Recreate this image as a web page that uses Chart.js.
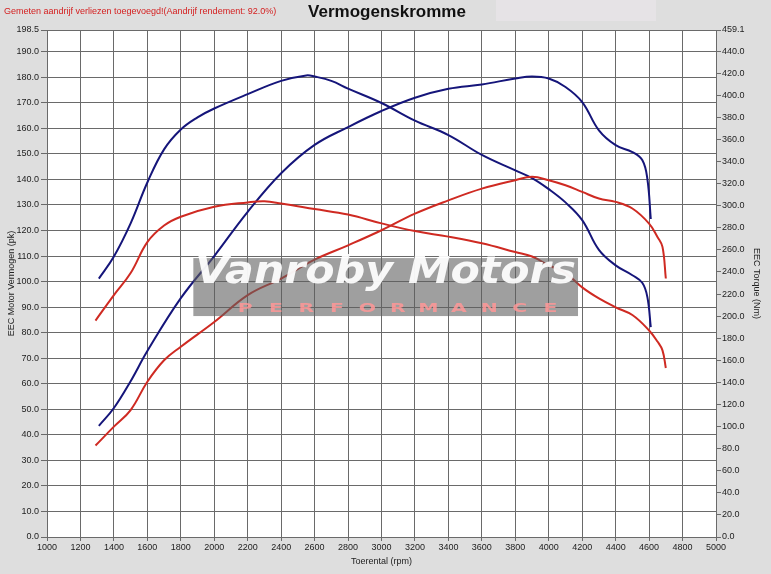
<!DOCTYPE html>
<html>
<head>
<meta charset="utf-8">
<script src="https://cdn.jsdelivr.net/npm/chart.js@4.4.1/dist/chart.umd.min.js"></script>
<style>
html, body { margin: 0; padding: 0; background: #dedede; }
</style>
</head>
<body>
<canvas id="c" width="771" height="574"></canvas>
<script>
// tick labels
const rpmTicks = [1000, 1200, 1400, 1600, 1800, 2000, 2200, 2400, 2600, 2800, 3000, 3200, 3400, 3600, 3800, 4000, 4200, 4400, 4600, 4800, 5000];
const pkTicks = [0, 10, 20, 30, 40, 50, 60, 70, 80, 90, 100, 110, 120, 130, 140, 150, 160, 170, 180, 190, 198.5];
const nmTicks = [0, 20, 40, 60, 80, 100, 120, 140, 160, 180, 200, 220, 240, 260, 280, 300, 320, 340, 360, 380, 400, 420, 440, 459.1];

// blue run (vermogen pk / koppel Nm)
const bluePkRpm = [1310, 1400, 1500, 1600, 1800, 2000, 2200, 2400, 2600, 2800, 3000, 3200, 3400, 3600, 3800, 3900, 4000, 4100, 4200, 4300, 4400, 4500, 4560, 4590, 4610];
const bluePk = [43.5, 50.5, 61, 72.8, 93.5, 110, 127.3, 142.4, 153.5, 160.5, 166.8, 172, 175.5, 177.2, 179.5, 180.3, 179.5, 176.2, 170.3, 159.2, 153.4, 150.7, 147.5, 140, 124.5];
const blueNmRpm = [1310, 1400, 1500, 1600, 1700, 1800, 1900, 2000, 2200, 2400, 2550, 2600, 2700, 2800, 3000, 3200, 3400, 3600, 3800, 3900, 4000, 4100, 4200, 4300, 4400, 4500, 4560, 4590, 4610];
const blueNm = [234, 254, 284, 321, 351, 369, 380, 388, 401, 413, 418, 417, 413, 406, 393, 377, 364, 346, 332, 325, 315, 303, 287, 260, 246, 237, 230, 217, 190];

// red run
const redPkRpm = [1290, 1400, 1500, 1600, 1700, 1800, 2000, 2200, 2400, 2600, 2800, 3000, 3200, 3400, 3600, 3800, 3900, 4000, 4100, 4200, 4300, 4400, 4500, 4600, 4650, 4680, 4700];
const redPk = [35.8, 43.2, 49.7, 60.8, 69.2, 74.5, 84.2, 94.7, 101.2, 108.6, 114.2, 120.1, 126.6, 131.8, 136.4, 139.7, 141, 139.7, 137.7, 135.1, 132.5, 131.2, 128.6, 122.7, 117.5, 113.6, 101.2];
const redNmRpm = [1290, 1400, 1500, 1600, 1700, 1800, 2000, 2200, 2300, 2400, 2600, 2800, 3000, 3200, 3400, 3600, 3800, 3900, 4000, 4100, 4200, 4300, 4400, 4500, 4600, 4650, 4680, 4700];
const redNm = [196, 219, 239, 267, 282, 290, 299, 303, 304, 302, 297, 292, 284, 277, 272, 266, 258, 254, 246, 239, 226, 216, 208, 201, 187, 177, 169, 153];

const BLUE = '#15157a';
const RED = '#cf2a22';
const GRID = '#6a6a6a';

const pts = (xs, ys) => xs.map((x, i) => ({ x: x, y: ys[i] }));

function line(xs, ys, color, axis) {
    return {
        data: pts(xs, ys),
        yAxisID: axis,
        borderColor: color,
        borderWidth: 2,
        pointRadius: 0,
        fill: false,
        tension: 0.4
    };
}

Chart.defaults.font.family = '"Liberation Sans", Arial, sans-serif';
Chart.defaults.font.size = 9;
Chart.defaults.color = '#222';

// grey page, lighter box, white plot area
const background = {
    id: 'background',
    beforeDraw(chart) {
        const { ctx, chartArea: a } = chart;
        ctx.save();
        ctx.fillStyle = '#dedede';
        ctx.fillRect(0, 0, chart.width, chart.height);
        ctx.fillStyle = '#e6e3e6';
        ctx.fillRect(496, 0, 160, 21);
        ctx.fillStyle = '#fff';
        ctx.fillRect(a.left, a.top, a.right - a.left, a.bottom - a.top);
        ctx.restore();
    },
    afterDraw(chart) {
        const ctx = chart.ctx;
        ctx.save();
        ctx.textBaseline = 'middle';
        ctx.fillStyle = '#d42020';
        ctx.font = '9px "Liberation Sans", Arial';
        ctx.fillText('Gemeten aandrijf verliezen toegevoegd!(Aandrijf rendement: 92.0%)', 4, 12);
        ctx.fillStyle = '#111';
        ctx.font = 'bold 17px "Liberation Sans", Arial';
        ctx.textAlign = 'center';
        ctx.fillText('Vermogenskromme', 387, 12);
        ctx.restore();
    }
};

// "Vanroby Motors" logo block over the curves
const watermark = {
    id: 'watermark',
    afterDatasetsDraw(chart) {
        const { ctx, scales } = chart;
        const l = scales.x.getPixelForValue(1875), r = scales.x.getPixelForValue(4175);
        const t = scales.y.getPixelForValue(109.2), b = scales.y.getPixelForValue(86.5);
        ctx.save();
        ctx.fillStyle = 'rgba(95,95,95,0.6)';
        ctx.fillRect(l, t, r - l, b - t);

        ctx.font = 'italic bold 37px "DejaVu Sans"';
        ctx.fillStyle = 'rgba(255,255,255,0.93)';
        const txt = 'Vanroby Motors';
        const w = ctx.measureText(txt).width;
        ctx.save();
        ctx.translate(l + 2, t + 25);
        ctx.scale((r - l - 4) / w, 1);
        ctx.fillText(txt, 0, 0);
        ctx.restore();

        ctx.font = 'bold 12px "DejaVu Sans"';
        ctx.fillStyle = 'rgba(255,150,150,0.85)';
        ctx.textAlign = 'center';
        const letters = 'PERFORMANCE'.split('');
        letters.forEach((ch, i) => {
            ctx.save();
            ctx.translate(l + 52 + i * 30.5, b - 4);
            ctx.scale(1.7, 1);
            ctx.fillText(ch, 0, 0);
            ctx.restore();
        });
        ctx.restore();
    }
};

new Chart(document.getElementById('c'), {
    type: 'line',
    data: {
        datasets: [
            line(redPkRpm, redPk, RED, 'y'),
            line(redNmRpm, redNm, RED, 'y1'),
            line(bluePkRpm, bluePk, BLUE, 'y'),
            line(blueNmRpm, blueNm, BLUE, 'y1')
        ]
    },
    options: {
        responsive: false,
        animation: false,
        devicePixelRatio: 1,
        layout: { padding: { top: 30, left: 0, right: 0, bottom: 0 } },
        plugins: {
            legend: { display: false },
            title: { display: false },
            tooltip: { enabled: false }
        },
        scales: {
            x: {
                type: 'linear',
                min: 1000,
                max: 5000,
                afterBuildTicks: (s) => { s.ticks = rpmTicks.map(v => ({ value: v })); },
                afterFit: (s) => { s.height = 37; },
                grid: { color: GRID, tickLength: 4 },
                border: { color: GRID },
                ticks: { autoSkip: false, maxRotation: 0, padding: 1, callback: v => v },
                title: { display: true, text: 'Toerental (rpm)', padding: { top: 0, bottom: 7 } }
            },
            y: {
                position: 'left',
                min: 0,
                max: 198.5,
                afterBuildTicks: (s) => { s.ticks = pkTicks.map(v => ({ value: v })); },
                afterFit: (s) => { s.width = 47; },
                grid: { color: GRID, tickLength: 6 },
                border: { color: GRID },
                ticks: { autoSkip: false, padding: 2, callback: v => v.toFixed(1) },
                title: { display: true, text: 'EEC Motor Vermogen (pk)', padding: { top: 6, bottom: 0 } }
            },
            y1: {
                position: 'right',
                min: 0,
                max: 459.1,
                afterBuildTicks: (s) => { s.ticks = nmTicks.map(v => ({ value: v })); },
                afterFit: (s) => { s.width = 55; },
                grid: { drawOnChartArea: false, color: GRID, tickLength: 5 },
                border: { color: GRID },
                ticks: { autoSkip: false, padding: 1, callback: v => v.toFixed(1) },
                title: { display: true, text: 'EEC Torque (Nm)', padding: { top: 9, bottom: 0 } }
            }
        }
    },
    plugins: [background, watermark]
});
</script>
</body>
</html>
